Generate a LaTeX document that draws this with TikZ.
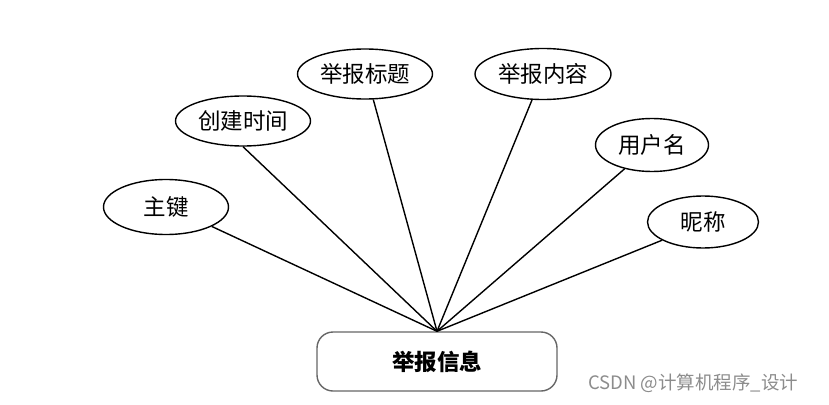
\documentclass[tikz,border=0pt]{standalone}
\usepackage{fontspec}
\setmainfont{Noto Sans CJK SC}
\usetikzlibrary{shapes.geometric}
\begin{document}
\begin{tikzpicture}[x=1pt,y=-1pt,
  attr/.style={draw=black,line width=1.4pt,ellipse,inner sep=0pt,font=\fontsize{22.5}{22.5}\selectfont},
  entity/.style={draw=black!60,line width=1.4pt,rounded corners=16pt,inner sep=0pt,minimum width=240pt,minimum height=59pt,font=\fontsize{22.5}{22.5}\selectfont\bfseries},
  link/.style={line width=1.4pt,black}]
\useasboundingbox (0,0) rectangle (829,404);
\node[entity] (info) at (437,361.5) {举报信息};
\node[attr,minimum width=125pt,minimum height=55pt] (zj) at (166,207) {主键};
\node[attr,minimum width=135pt,minimum height=50pt] (cj) at (243,121) {创建时间};
\node[attr,minimum width=135pt,minimum height=50pt] (bt) at (365,74) {举报标题};
\node[attr,minimum width=136pt,minimum height=51pt] (nr) at (543,74) {举报内容};
\node[attr,minimum width=113pt,minimum height=53pt] (yh) at (652,145) {用户名};
\node[attr,minimum width=111pt,minimum height=52pt] (nc) at (703,222) {昵称};
\foreach \n/\a in {zj/-23,cj/-90,bt/-72,nr/-113,yh/-139,nc/-156} \draw[link] (info.north) -- (\n.\a);
\node[text=black!45,font=\fontsize{18.5}{18.5}\selectfont,anchor=west,inner sep=0pt] (wm) at (588,383) {CSDN @计算机程序\_设计};
\end{tikzpicture}
\end{document}
